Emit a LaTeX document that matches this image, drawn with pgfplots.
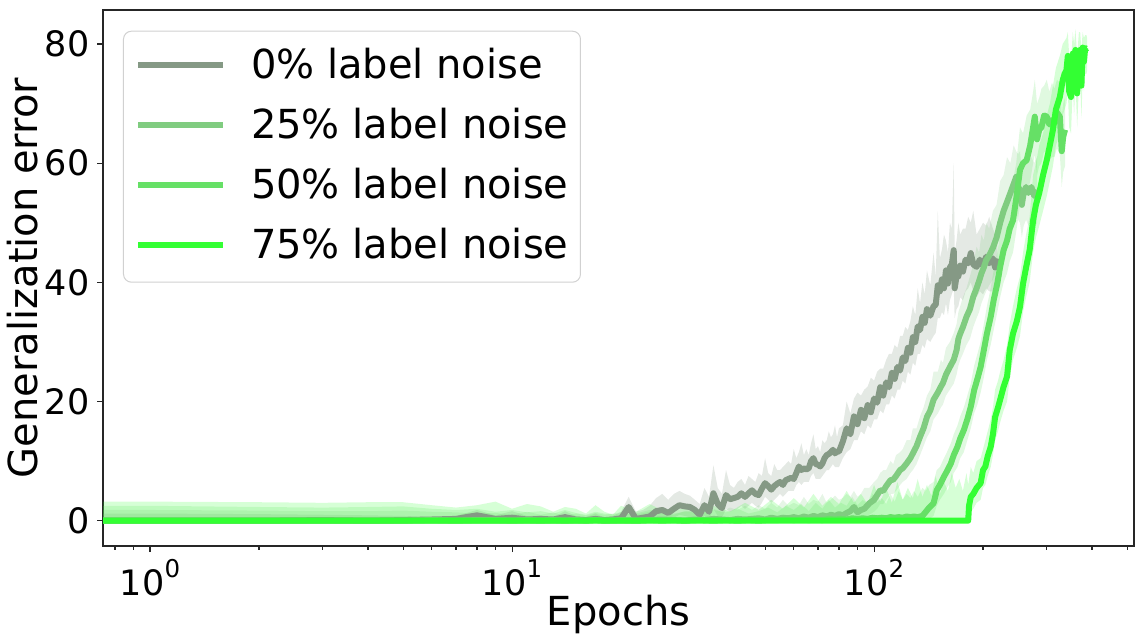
\documentclass[border=0pt]{standalone}
\usepackage{fontspec}
\setmainfont{DejaVu Sans}
\usepackage{pgfplots}
\pgfplotsset{compat=1.18}
\usepackage{pgfplotstable}
\usepgfplotslibrary{fillbetween}

\definecolor{cA}{RGB}{133,153,133}
\definecolor{cB}{RGB}{128,204,128}
\definecolor{cC}{RGB}{102,224,102}
\definecolor{cD}{RGB}{51,255,51}

\newcommand\tickfont{\fontsize{35}{42}\selectfont}
\newcommand\labfont{\fontsize{40}{48}\selectfont}
\newcommand\tsup[1]{\raisebox{0.5em}{\fontsize{24.5}{28}\selectfont #1}}

% 0% label noise: epoch, mean, lower, upper
\pgfplotstableread{
e m lo hi
0.7 0.0 0 1.2
1 0.0 0 1.2
2 0.0 0 1.1
3 0.1 0 1.0
4 0.0 0 0.9
5 0.1 0 0.8
6 0.2 0 0.6
7 0.3 0 0.8
8 0.9 0.1 1.8
9 0.3 0 0.9
10 0.5 0 1.6
11 0.2 0 0.8
12 0.3 0 0.9
13 0.2 0 0.6
14 0.6 0 1.6
15 0.2 0 0.8
16 0.1 0 0.6
17 0.3 0 1.2
18 0.1 0 0.5
19 0.2 0 0.8
20 0.4 0 1.5
21 2.3 0.5 4.0
22 0.3 0 1.5
23 0.5 0 1.8
24 0.7 0 2.5
25 1.6 0.2 3.8
26 1.8 0.3 4.5
27 1.3 0 3.5
28 2.0 0.5 4.5
29 2.6 1.0 5.0
30 2.4 0.8 4.5
31 2.3 0.6 4.2
32 1.8 0.3 3.5
33 1.0 0 2.8
34 2.6 0.8 5.5
35 1.5 0.2 4.0
36 4.6 2.0 9.3
37 2.8 0.8 5.5
38 2.1 0.5 4.5
39 4.3 2.0 8.5
40 3.6 1.5 6.0
41 3.8 1.8 5.5
42 4.0 2.0 6.5
43 4.6 2.5 7.0
44 4.0 2.0 6.0
45 4.6 2.5 7.5
46 5.1 3.0 7.0
47 4.5 2.5 6.5
48 4.3 2.2 8.0
49 5.4 3.0 7.5
50 6.3 4.0 10.5
51 5.8 3.5 8.0
52 5.2 3.0 7.5
53 5.8 3.5 9.5
54 6.2 4.0 8.5
55 6.5 4.5 8.5
56 6.0 4.0 9.0
57 6.8 4.5 9.5
58 7.0 5.0 10.0
59 7.2 5.0 9.5
60 7.0 5.0 12.0
61 8.0 6.0 10.5
62 9.1 6.5 11.5
63 8.5 6.0 13.0
64 8.8 6.5 11.0
65 8.6 6.5 12.0
66 8.8 6.5 11.0
67 10.0 7.5 13.0
68 10.5 8.0 14.5
69 9.5 7.0 12.0
70 9.4 7.0 12.5
71 9.1 7.0 11.5
72 9.6 7.5 13.5
73 10.5 8.0 13.0
74 11.0 8.5 13.5
75 11.2 8.5 15.0
76 11.5 9.0 14.0
77 11.9 9.5 14.5
78 11.3 9.0 16.0
79 11.6 9.0 14.0
80 11.6 9.0 15.5
82 13.3 10.5 16.0
84 15.5 11.5 20.0
86 14.5 12.0 18.0
88 17.5 13.5 20.5
90 16.2 13.5 21.5
92 18.6 15.0 21.0
94 17.2 14.5 22.0
96 19.4 16.0 22.5
98 18.2 15.5 24.0
100 20.5 17.0 23.5
102 19.8 17.0 25.0
104 22.4 18.5 25.5
106 21.0 18.0 25.5
108 23.2 19.5 27.0
110 22.4 19.5 28.0
112 24.8 21.0 28.0
114 23.8 20.5 29.5
116 25.8 22.0 29.0
118 25.2 22.0 31.0
120 27.4 23.5 31.0
122 26.8 23.0 32.5
124 29.0 25.0 32.0
126 28.2 24.5 33.5
128 30.8 26.5 36.0
130 30.0 26.0 34.5
132 32.6 28.0 39.0
134 32.0 28.0 36.5
136 34.2 29.5 40.0
138 33.2 29.0 38.0
140 35.5 30.5 42.0
143 34.4 30.0 39.5
146 36.0 31.0 45.0
148 36.2 31.5 41.0
150 39.5 34.0 52.0
152 38.5 34.0 44.0
154 40.5 35.0 45.5
156 39.0 34.5 48.0
158 42.0 36.5 47.0
160 39.8 34.5 45.0
162 42.5 37.0 50.0
164 43.0 38.0 49.0
166 45.4 39.0 60.0
167 39.0 34.0 45.0
169 41.0 35.5 47.0
171 41.0 36.0 50.0
173 42.8 37.5 48.0
176 41.8 37.0 49.0
179 43.8 38.5 49.0
182 43.2 39.0 51.0
185 44.9 40.0 50.0
188 43.0 38.5 52.0
192 42.6 37.5 48.0
196 43.8 38.5 49.0
200 42.8 38.0 50.0
204 44.3 39.0 49.5
208 43.2 38.5 51.0
213 44.0 38.5 49.0
216 42.5 37.5 48.0
219 44.0 39.0 49.0
}\tA

% 25% label noise
\pgfplotstableread{
e m lo hi
0.7 0.0 0 1.8
1 0.0 0 1.8
2 0.0 0 1.7
3 0.0 0 1.6
4 0.0 0 1.6
5 0.0 0 1.7
6 0.1 0 1.5
7 0.0 0 1.4
8 0.1 0 1.2
9 0.1 0 1.3
10 0.0 0 1.0
11 0.1 0 1.5
12 0.0 0 1.0
13 0.1 0 1.4
14 0.0 0 0.8
15 0.1 0 1.2
16 0.0 0 0.9
17 0.1 0 1.3
18 0.0 0 1.0
20 0.1 0 1.4
22 0.0 0 1.0
24 0.1 0 1.5
26 0.2 0 1.8
28 0.1 0 1.2
30 0.0 0 1.5
32 0.2 0 1.8
34 0.1 0 1.4
36 0.3 0 2.0
38 0.2 0 1.5
40 0.1 0 2.2
42 0.3 0 1.8
44 0.2 0 2.5
46 0.3 0 1.8
48 0.4 0 2.6
50 0.2 0 2.0
52 0.5 0 3.0
54 0.3 0 2.2
56 0.5 0 3.5
58 0.4 0 2.5
60 0.6 0 3.0
62 0.4 0 2.6
64 0.7 0 4.0
66 0.5 0 2.8
68 0.8 0 3.5
70 0.6 0 3.2
72 0.9 0 4.5
74 0.7 0 3.0
76 1.0 0 3.5
78 0.8 0 4.2
80 1.1 0 3.5
82 0.9 0 3.8
84 1.3 0 4.5
86 1.6 0.2 4.0
88 2.3 0.5 5.0
90 1.4 0.2 4.0
92 1.8 0.4 4.5
94 2.0 0.5 5.5
97 2.9 1.0 5.5
100 3.5 1.5 6.5
102 4.3 2.0 7.0
104 5.1 2.8 8.0
106 5.0 2.8 8.5
108 5.8 3.5 8.5
111 6.8 4.5 10.0
113 6.9 4.5 9.5
115 7.5 5.0 11.0
118 8.5 6.0 11.5
120 8.8 6.5 12.0
123 9.6 7.0 13.5
126 10.5 8.0 13.5
128 11.3 8.5 15.5
131 12.5 9.5 15.5
134 14.1 11.0 17.5
137 15.5 12.5 19.0
140 17.4 14.0 21.0
143 18.5 15.0 22.0
146 20.3 17.0 25.0
150 21.5 18.0 25.0
153 22.5 19.0 27.0
155 23.1 19.5 26.5
158 24.5 21.0 29.0
162 25.8 22.0 30.0
166 27.0 23.0 31.5
169 28.6 24.5 33.0
171 30.5 26.0 35.0
173 31.4 27.0 36.0
176 32.5 28.0 37.5
180 34.2 29.5 39.0
184 35.5 30.5 41.0
188 37.6 32.5 43.0
192 39.0 34.0 46.0
195 40.2 35.0 45.0
198 41.5 36.5 48.0
201 42.5 37.5 47.0
204 43.7 38.5 50.0
208 44.5 39.5 49.0
213 45.8 40.5 52.0
218 47.5 42.0 53.0
223 50.0 44.5 57.0
228 52.0 46.5 58.0
233 53.5 48.0 61.0
238 55.0 49.5 60.0
243 56.5 51.0 63.0
247 57.7 52.0 62.0
250 56.0 50.5 61.5
253 55.5 50.0 62.0
256 53.0 47.5 58.5
259 55.0 49.5 60.0
263 56.0 50.5 61.0
267 55.0 49.5 60.5
272 56.0 50.5 61.0
277 54.5 49.0 60.0
282 55.5 50.0 61.0
}\tB

% 50% label noise
\pgfplotstableread{
e m lo hi
0.7 0.0 0 2.5
1 0.0 0 2.5
2 0.0 0 2.3
3 0.0 0 2.2
4 0.0 0 2.3
5 0.0 0 2.4
6 0.0 0 2.0
7 0.0 0 1.8
8 0.0 0 2.0
9 0.0 0 1.5
10 0.0 0 1.8
11 0.0 0 1.4
12 0.0 0 1.6
13 0.0 0 1.2
14 0.0 0 1.8
15 0.0 0 1.3
16 0.0 0 1.0
17 0.1 0 1.5
18 0.0 0 1.2
20 0.0 0 1.0
22 0.0 0 1.2
24 0.1 0 1.8
26 0.0 0 1.5
28 0.1 0 1.0
30 0.0 0 1.6
33 0.1 0 1.2
36 0.0 0 1.8
39 0.1 0 1.4
42 0.0 0 2.0
45 0.1 0 1.2
48 0.0 0 1.6
51 0.1 0 2.2
54 0.1 0 1.4
57 0.2 0 2.5
60 0.1 0 1.8
63 0.2 0 2.8
66 0.1 0 1.6
69 0.2 0 3.0
72 0.1 0 2.0
75 0.3 0 3.5
78 0.2 0 2.2
81 0.3 0 3.0
84 0.2 0 2.5
87 0.4 0 4.0
90 0.3 0 2.6
93 0.4 0 3.5
96 0.3 0 2.8
99 0.5 0 4.5
102 0.4 0 3.0
105 0.5 0 3.8
108 0.4 0 2.8
111 0.6 0 4.5
114 0.5 0 3.2
117 0.6 0 5.0
120 0.5 0 3.5
123 0.7 0 4.5
126 0.6 0 3.8
129 0.7 0 5.0
132 0.6 0 4.0
136 0.8 0 5.5
139 1.5 0 5.0
142 2.2 0.3 6.0
146 2.9 0.8 6.5
149 5.1 2.5 8.5
152 6.0 3.5 9.0
156 7.4 4.5 10.5
159 8.3 5.5 11.5
163 9.6 6.5 13.0
166 11.0 8.0 14.5
170 12.4 9.0 16.0
173 13.8 10.5 17.5
177 15.2 11.5 19.0
181 17.0 13.5 21.0
185 19.1 15.5 23.0
189 21.9 18.0 26.0
193 23.8 19.5 28.0
197 25.8 21.5 30.0
201 28.6 24.0 33.0
205 31.4 27.0 36.0
210 34.2 29.5 39.0
214 37.0 32.0 42.0
219 39.8 35.0 45.0
223 42.6 37.5 48.0
228 45.4 40.0 51.0
233 47.0 41.5 53.0
237 49.0 43.5 55.0
242 50.4 45.0 57.0
247 54.0 48.5 60.0
253 58.9 53.0 66.0
258 60.0 54.0 65.0
264 60.5 54.5 68.0
270 63.0 57.0 69.0
275 66.0 60.0 72.0
278 67.8 61.5 74.0
282 64.0 58.0 70.0
286 65.6 59.5 71.0
290 66.0 60.0 72.5
295 68.0 62.0 73.0
300 67.8 61.5 74.0
305 66.5 60.5 72.0
310 67.2 61.0 73.5
315 67.0 61.0 72.5
320 68.5 62.5 74.0
326 67.8 61.5 73.5
330 62.0 56.0 68.0
333 64.4 58.5 70.0
337 65.6 59.5 71.0
}\tC

% 75% label noise
\pgfplotstableread{
e m lo hi
0.7 0 0 3.2
1 0 0 3.2
2 0 0 3.1
3 0 0 3.0
4 0 0 3.1
5 0 0 3.1
6 0 0 2.6
7 0 0 2.2
8 0 0 2.6
9 0 0 3.2
10 0 0 2.0
11 0 0 2.8
12 0 0 2.4
13 0 0 1.5
14 0 0 2.3
15 0 0 2.0
16 0 0 1.2
17 0 0 2.6
18 0 0 1.5
19 0 0 1.0
20 0 0 2.5
22 0 0 1.5
24 0 0 2.8
27 0 0 1.2
30 0 0 2.2
33 0 0 1.0
36 0 0 2.5
40 0 0 1.5
44 0 0 3.0
48 0 0 1.8
52 0 0 3.5
56 0 0 2.0
60 0 0 3.8
64 0 0 2.2
68 0 0 4.5
72 0 0 2.5
76 0 0 4.0
80 0 0 2.8
84 0 0 5.0
88 0 0 3.0
92 0 0 4.5
96 0 0 2.8
100 0 0 6.0
104 0 0 3.2
108 0 0 5.5
112 0 0 3.0
116 0 0 6.5
120 0 0 3.5
124 0 0 5.5
128 0 0 3.8
132 0 0 7.0
136 0 0 4.0
140 0 0 6.0
144 0 0 4.2
148 0 0 7.5
152 0 0 4.5
156 0 0 6.5
160 0 0 5.0
164 0 0 8.0
168 0 0 5.5
172 0 0 7.0
176 0 0 5.0
180 0 0 8.0
182 0 0 6.0
183 2.5 0.5 7.0
185 4.0 1.5 9.0
188 4.5 2.0 8.0
192 5.5 3.0 10.0
197 6.3 3.5 10.5
200 8.5 5.5 12.0
203 9.1 6.0 13.5
206 10.8 7.5 15.0
210 12.4 9.0 17.0
213 14.5 11.0 19.0
216 17.4 13.5 22.0
220 19.0 15.0 23.5
223 20.3 16.5 25.0
228 22.5 18.5 27.0
233 24.2 20.0 29.5
237 28.6 24.0 33.0
242 31.4 27.0 36.0
248 33.5 29.0 39.0
253 35.9 31.0 41.0
258 39.8 35.0 45.0
263 42.5 37.5 48.0
269 45.4 40.0 51.0
275 50.4 45.0 58.0
280 53.0 47.5 60.0
286 55.0 49.5 63.0
293 58.0 52.0 65.0
300 60.5 54.5 68.0
306 63.0 57.0 70.0
312 65.6 59.5 73.0
318 69.0 63.0 76.0
326 71.1 65.0 78.0
332 73.9 68.0 80.0
336 75.0 69.0 80.5
340 75.6 70.0 81.0
343 78.0 72.0 82.0
346 72.0 66.0 78.0
350 71.1 65.0 77.0
354 78.4 73.0 82.0
357 74.0 68.0 80.0
360 79.0 74.0 82.5
364 71.7 66.0 78.0
368 78.5 73.0 82.0
371 79.0 74.0 82.0
374 73.0 67.5 79.0
377 79.4 74.5 82.0
380 77.0 72.0 81.0
383 79.3 75.0 81.5
386 79.2 75.0 81.5
388 79.3 75.5 81.0
}\tD

\begin{document}
\begin{tikzpicture}
\begin{axis}[
  scale only axis, width=1031pt, height=536pt,
  xmode=log, xmin=0.7415, xmax=522.5, ymin=-4.25, ymax=85.7,
  axis line style={line width=1.1pt, black!85},
  tick align=outside, tick pos=left,
  major tick length=6pt, minor tick length=3.5pt,
  every tick/.append style={line width=1.1pt, black!85},
  xtick={1,10,100},
  minor xtick={0.8,0.9,2,3,4,5,6,7,8,9,20,30,40,50,60,70,80,90,200,300,400,500},
  xticklabels={10\tsup{0},10\tsup{1},10\tsup{2}},
  ytick={0,20,40,60,80},
  yticklabel style={font=\tickfont, /pgf/number format/assume math mode=true, anchor=east, inner sep=0pt, xshift=-7.5pt},
  xticklabel style={font=\tickfont, anchor=base, inner sep=0pt, yshift=-43pt},
  every axis x label/.style={at={(rel axis cs:0.5,-0.1474)}, anchor=base, font=\labfont},
  every axis y label/.style={at={(rel axis cs:-0.064,0.5)}, rotate=90, anchor=base, font=\labfont},
  xlabel={Epochs}, ylabel={Generalization error},
  legend style={at={(0.0194,0.9614)}, anchor=north west, draw=black!18, line width=1pt,
    rounded corners=8pt, fill=white, fill opacity=0.8, text opacity=1, font=\labfont,
    inner xsep=12pt, inner ysep=17.3pt, row sep=23.6pt,
    nodes={inner sep=0pt, text height=30.4pt, text depth=6pt},
    /tikz/every odd column/.append style={column sep=25pt}},
  legend cell align=left,
  legend image code/.code={\draw[#1, line width=5.5pt] (0pt,1.5pt) -- (85pt,1.5pt);},
]
% 0%
\addplot[draw=none, name path=Ahi, forget plot] table[x=e,y=hi]{\tA};
\addplot[draw=none, name path=Alo, forget plot] table[x=e,y=lo]{\tA};
\addplot[cA, fill opacity=0.22, draw=none, forget plot] fill between[of=Ahi and Alo];
\addplot[cA, line width=6pt, line join=round] table[x=e,y=m]{\tA};
\addlegendentry{0\% label noise}
% 25%
\addplot[draw=none, name path=Bhi, forget plot] table[x=e,y=hi]{\tB};
\addplot[draw=none, name path=Blo, forget plot] table[x=e,y=lo]{\tB};
\addplot[cB, fill opacity=0.2, draw=none, forget plot] fill between[of=Bhi and Blo];
\addplot[cB, line width=6pt, line join=round] table[x=e,y=m]{\tB};
\addlegendentry{25\% label noise}
% 50%
\addplot[draw=none, name path=Chi, forget plot] table[x=e,y=hi]{\tC};
\addplot[draw=none, name path=Clo, forget plot] table[x=e,y=lo]{\tC};
\addplot[cC, fill opacity=0.2, draw=none, forget plot] fill between[of=Chi and Clo];
\addplot[cC, line width=6pt, line join=round] table[x=e,y=m]{\tC};
\addlegendentry{50\% label noise}
% 75%
\addplot[draw=none, name path=Dhi, forget plot] table[x=e,y=hi]{\tD};
\addplot[draw=none, name path=Dlo, forget plot] table[x=e,y=lo]{\tD};
\addplot[cD, fill opacity=0.2, draw=none, forget plot] fill between[of=Dhi and Dlo];
\addplot[cD, line width=6pt, line join=round] table[x=e,y=m]{\tD};
\addlegendentry{75\% label noise}
\coordinate (bl) at (rel axis cs:0,0);
\coordinate (tr) at (rel axis cs:1,1);
\end{axis}
\pgfresetboundingbox
\path[use as bounding box] ([shift={(-103pt,-94pt)}]bl) rectangle ([shift={(10pt,10pt)}]tr);
\end{tikzpicture}
\end{document}
